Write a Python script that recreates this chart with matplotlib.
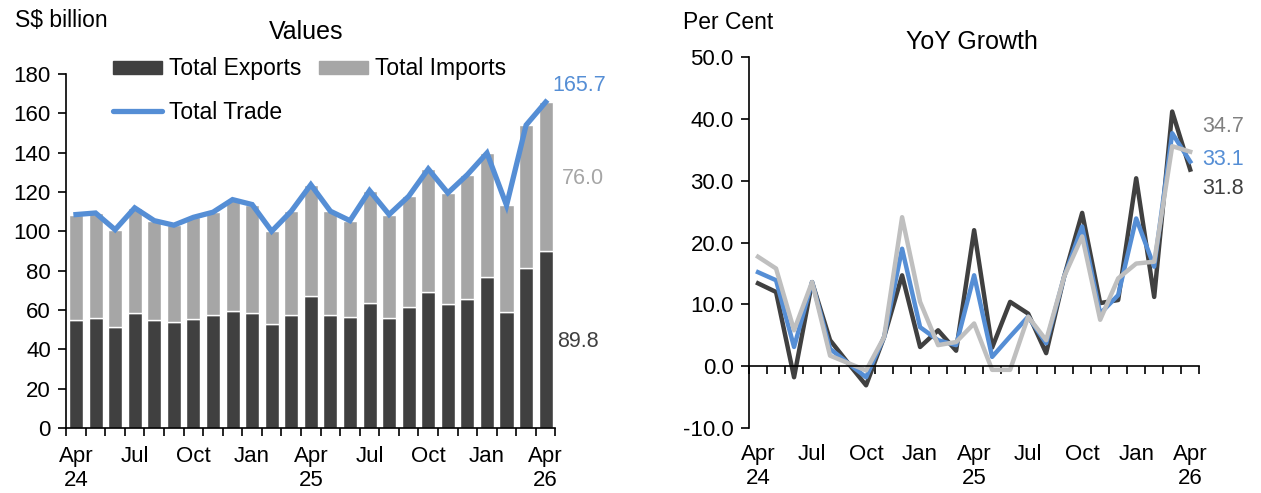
import matplotlib
matplotlib.use("Agg")
import matplotlib.pyplot as plt
from matplotlib.patches import Patch
from matplotlib.lines import Line2D
import numpy as np

plt.rcParams["font.family"] = ["Liberation Sans", "DejaVu Sans"]

# ---- data ----
months = ["Apr\n24", "", "", "Jul", "", "", "Oct", "", "", "Jan", "", "",
          "Apr\n25", "", "", "Jul", "", "", "Oct", "", "", "Jan", "", "", "Apr\n26"]

exports = [55.1, 55.9, 51.4, 58.5, 55.1, 53.7, 55.4, 57.5, 59.5, 58.5, 53.0, 57.5,
           67.3, 57.6, 56.6, 63.7, 55.9, 61.5, 69.2, 63.2, 65.8, 76.8, 59.2, 81.5, 89.8]
imports = [53.4, 53.4, 49.4, 53.4, 50.3, 49.4, 51.7, 52.2, 56.6, 55.1, 47.0, 52.7,
           56.4, 52.6, 48.8, 57.0, 52.6, 56.3, 62.5, 56.3, 63.0, 63.0, 54.0, 72.5, 76.0]
total_trade = [108.5, 109.3, 100.8, 111.9, 105.4, 103.1, 107.1, 109.7, 116.1, 113.6, 100.0, 110.2,
               123.7, 110.2, 105.4, 120.7, 108.5, 117.8, 131.7, 119.5, 128.8, 139.8, 113.2, 154.0, 165.7]

yoy_exports = [13.4, 12.0, -1.8, 13.6, 4.2, 0.5, -3.1, 4.7, 14.7, 3.1, 5.8, 2.5,
               22.0, 3.0, 10.4, 8.5, 2.1, 14.5, 24.8, 10.2, 10.7, 30.4, 11.2, 41.2, 31.8]
yoy_total = [15.2, 13.9, 3.1, 13.6, 2.8, 0.5, -1.8, 4.7, 19.0, 6.3, 4.2, 3.4,
             14.7, 1.5, 4.8, 8.0, 3.7, 14.5, 22.6, 8.5, 11.5, 23.9, 16.1, 37.7, 33.1]
yoy_imports = [17.7, 15.8, 5.8, 13.6, 1.7, 0.5, -0.7, 4.7, 24.1, 10.4, 3.4, 3.9,
               6.9, -0.6, -0.6, 8.0, 4.2, 14.5, 21.0, 7.5, 14.2, 16.6, 16.9, 35.6, 34.7]

DARK = "#404040"
GREY = "#A6A6A6"
LIGHT = "#BFBFBF"
BLUE = "#558ED5"
FS = 16        # tick labels
FS_LAB = 16.5  # legend / units
FS_T = 18      # panel titles
FS_END = 15.5  # end-point labels

x = np.arange(len(months))
major = [i for i, m in enumerate(months) if m]
major_lab = [m for m in months if m]

fig = plt.figure(figsize=(12.61, 4.93), dpi=100)

# ---- left: values ----
ax = fig.add_axes([0.0525, 0.132, 0.388, 0.718])
ax.bar(x, exports, width=0.72, color=DARK, edgecolor="white", linewidth=1)
ax.bar(x, imports, bottom=exports, width=0.72, color=GREY, edgecolor="white", linewidth=1)
ax.plot(x, total_trade, color=BLUE, lw=3.8, solid_joinstyle="miter")
ax.set_xlim(-0.5, len(x) - 0.5)
ax.set_ylim(0, 180)
ax.set_yticks(range(0, 181, 20))
ax.set_xticks(major, major_lab)
ax.set_xticks(np.arange(-0.5, len(x), 1), minor=True)
ax.tick_params(axis="x", which="major", length=0, pad=13)
ax.tick_params(axis="x", which="minor", length=6, width=1.2)
ax.tick_params(axis="y", length=6, width=1.2, pad=5)
ax.tick_params(labelsize=FS)
for s in ["top", "right"]:
    ax.spines[s].set_visible(False)
for s in ["left", "bottom"]:
    ax.spines[s].set_linewidth(1.2)
for t in ax.get_xticklabels():
    t.set_linespacing(1.2)

ax.text(24.35, 174.0, f"{total_trade[-1]:.1f}", color=BLUE, fontsize=FS_END, va="center")
ax.text(24.85, 126.6, f"{imports[-1]:.1f}", color=GREY, fontsize=FS_END, va="center")
ax.text(24.6, 44.2, f"{exports[-1]:.1f}", color=DARK, fontsize=FS_END, va="center")

fig.text(0.012, 0.959, "S$ billion", fontsize=FS_LAB, va="center")
fig.text(0.243, 0.935, "Values", fontsize=FS_T, ha="center", va="center")

handles = [Patch(color=DARK), Line2D([], [], color=BLUE, lw=3.8, solid_capstyle="round"),
           Patch(color=GREY)]
labels = ["Total Exports", "Total Trade", "Total Imports"]
fig.legend(handles, labels, ncol=2, frameon=False, fontsize=FS_LAB, loc="upper left",
           bbox_to_anchor=(0.0895, 0.884), handlelength=2.15, handleheight=0.5,
           handletextpad=0.3, columnspacing=0.75, labelspacing=0.9,
           borderpad=0, borderaxespad=0)

# ---- right: YoY growth ----
ax2 = fig.add_axes([0.594, 0.132, 0.357, 0.752])
ax2.plot(x, yoy_exports, color=DARK, lw=3.2)
ax2.plot(x, yoy_total, color=BLUE, lw=3.2)
ax2.plot(x, yoy_imports, color=LIGHT, lw=3.2)
ax2.set_xlim(-0.5, len(x) - 0.5)
ax2.set_ylim(-10, 50)
ax2.set_yticks(range(-10, 51, 10))
ax2.set_yticklabels([f"{v:.1f}" for v in range(-10, 51, 10)])
ax2.spines["bottom"].set_position(("data", 0))
ax2.set_xticks(np.arange(-0.5, len(x), 1))
ax2.set_xticklabels([])
ax2.tick_params(axis="x", length=6, width=1.2)
ax2.tick_params(axis="y", length=6, width=1.2, labelsize=FS, pad=5)
for s in ["top", "right"]:
    ax2.spines[s].set_visible(False)
for s in ["left", "bottom"]:
    ax2.spines[s].set_linewidth(1.2)
for i, lab in zip(major, major_lab):
    ax2.text(i, -0.043, lab, transform=ax2.get_xaxis_transform(), ha="center", va="top",
             fontsize=FS, linespacing=1.2)

ax2.text(24.65, 38.8, f"{yoy_imports[-1]:.1f}", color="#808080", fontsize=FS_END, va="center")
ax2.text(24.65, 33.4, f"{yoy_total[-1]:.1f}", color=BLUE, fontsize=FS_END, va="center")
ax2.text(24.65, 28.8, f"{yoy_exports[-1]:.1f}", color=DARK, fontsize=FS_END, va="center")

fig.text(0.5416, 0.955, "Per Cent", fontsize=FS_LAB, va="center")
fig.text(0.771, 0.915, "YoY Growth", fontsize=FS_T, ha="center", va="center")

fig.savefig("out.png", dpi=100)
